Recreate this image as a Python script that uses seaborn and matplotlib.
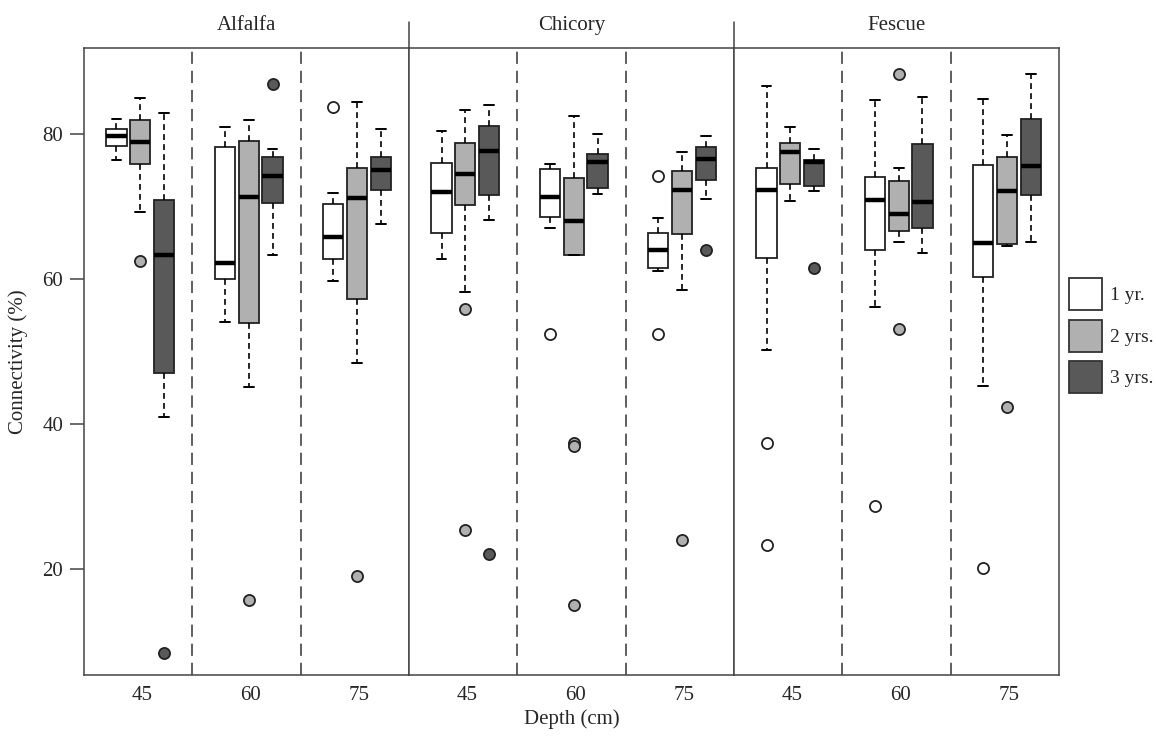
import matplotlib.pyplot as plt
import seaborn as sns
from matplotlib.patches import Patch

species = ["Alfalfa", "Chicory", "Fescue"]
depths = ["45", "60", "75"]
ages = ["1 yr.", "2 yrs.", "3 yrs."]
age_colors = ["#ffffff", "#b0b0b0", "#595959"]

# one entry per box, ordered species -> depth -> age
whislo = [76.4, 69.3, 41.0, 54.1, 45.2, 63.3, 59.7, 48.5, 67.6,
          62.8, 58.2, 68.2, 67.1, 63.4, 71.7, 61.1, 58.5, 71.1,
          50.2, 70.8, 72.2, 56.2, 65.2, 63.6, 45.3, 64.6, 65.2]
q1 = [78.4, 75.9, 47.0, 60.0, 54.0, 70.5, 62.8, 57.3, 72.3,
      66.4, 70.3, 71.6, 68.6, 63.4, 72.6, 61.5, 66.2, 73.7,
      62.9, 73.1, 72.9, 64.1, 66.6, 67.1, 60.3, 64.9, 71.6]
med = [79.8, 78.9, 63.4, 62.3, 71.3, 74.2, 65.8, 71.2, 75.1,
       72.1, 74.5, 77.7, 71.3, 68.1, 76.2, 64.1, 72.3, 76.6,
       72.3, 77.6, 76.2, 70.9, 69.0, 70.7, 65.0, 72.2, 75.6]
q3 = [80.7, 81.9, 70.9, 78.3, 79.1, 76.9, 70.4, 75.3, 76.8,
      76.0, 78.8, 81.1, 75.2, 73.9, 77.3, 66.4, 74.9, 78.2,
      75.3, 78.8, 76.5, 74.1, 73.6, 78.7, 75.7, 76.9, 82.1]
whishi = [82.1, 85.0, 82.9, 81.0, 82.0, 78.0, 71.9, 84.4, 80.7,
          80.5, 83.4, 84.0, 75.9, 82.5, 80.0, 68.5, 77.5, 79.8,
          86.6, 81.0, 78.0, 84.7, 75.4, 85.1, 84.9, 79.9, 88.3]
outliers = [[], [62.5], [8.4], [], [15.8], [86.9], [83.7], [19.1], [],
            [], [55.9, 25.4], [22.1], [52.4], [37.4, 37.0, 15.1], [], [74.2, 52.4], [24.0], [64.0],
            [37.4, 23.4], [], [61.6], [28.7], [88.3, 53.1], [], [20.1], [42.4], []]

sns.set_theme(style="white")
plt.rcParams['font.family'] = ['Liberation Serif', 'DejaVu Serif']
fs = 15

fig = plt.figure(figsize=(11.56, 7.38), dpi=100)
W, H = 1156, 738
offsets = [-0.2, 0.02, 0.24]
edge = "#222222"

axes = []
for s, name in enumerate(species):
    ax = fig.add_axes([(84 + s * 325) / W, 63 / H, 325 / W, 627 / H])
    axes.append(ax)
    for d in range(len(depths)):
        for a in range(len(ages)):
            k = s * 9 + d * 3 + a
            stats = [dict(whislo=whislo[k], q1=q1[k], med=med[k], q3=q3[k],
                          whishi=whishi[k], fliers=outliers[k])]
            ax.bxp(stats, positions=[d + offsets[a]], widths=0.185, capwidths=0.09,
                   patch_artist=True, manage_ticks=False,
                   boxprops=dict(facecolor=age_colors[a], edgecolor=edge, linewidth=1.3),
                   medianprops=dict(color="black", linewidth=3.2, solid_capstyle="butt"),
                   whiskerprops=dict(color="black", linewidth=1.2, linestyle=(0, (3.5, 2.5))),
                   capprops=dict(color="black", linewidth=1.4),
                   flierprops=dict(marker="o", markersize=8, markerfacecolor=age_colors[a],
                                   markeredgecolor=edge, markeredgewidth=1.3))
    for sep in [0.5, 1.5]:
        ax.axvline(sep, color="#333333", linewidth=1.1, linestyle=(0, (8, 4.5)), zorder=0)
    ax.set_xlim(-0.5, 2.5)
    ax.set_ylim(5.4, 91.9)
    ax.set_xticks([d + 0.04 for d in range(len(depths))])
    ax.set_xticklabels(depths)
    ax.tick_params(axis="x", length=0, pad=8, labelsize=fs)
    for sp in ax.spines.values():
        sp.set_color("#444444")
        sp.set_linewidth(1.1)
    ax.set_title(name, fontsize=fs, pad=13)
    if s == 0:
        ax.set_yticks([20, 40, 60, 80])
        ax.tick_params(axis="y", left=True, length=10, width=1.1, color="#444444",
                       pad=5, labelsize=fs)
        ax.set_ylabel("Connectivity (%)", fontsize=fs, labelpad=10)
    else:
        ax.set_yticks([])
        ax.plot([0, 0], [1, 1 + 26 / 627], transform=ax.transAxes, color="#444444",
                linewidth=1.1, clip_on=False)

fig.text((84 + 1059) / 2 / W, 1 - 719 / H, "Depth (cm)", ha="center", va="center", fontsize=fs)

handles = [Patch(facecolor=c, edgecolor="#333333", linewidth=1.3) for c in age_colors]
fig.legend(handles, ages, loc="upper left", bbox_to_anchor=(1069 / W, 1 - 278 / H),
           frameon=False, handlelength=1.7, handleheight=2.15, handletextpad=0.4,
           labelspacing=0.5, fontsize=14, borderaxespad=0, borderpad=0)

fig.savefig("out.png", dpi=100)
